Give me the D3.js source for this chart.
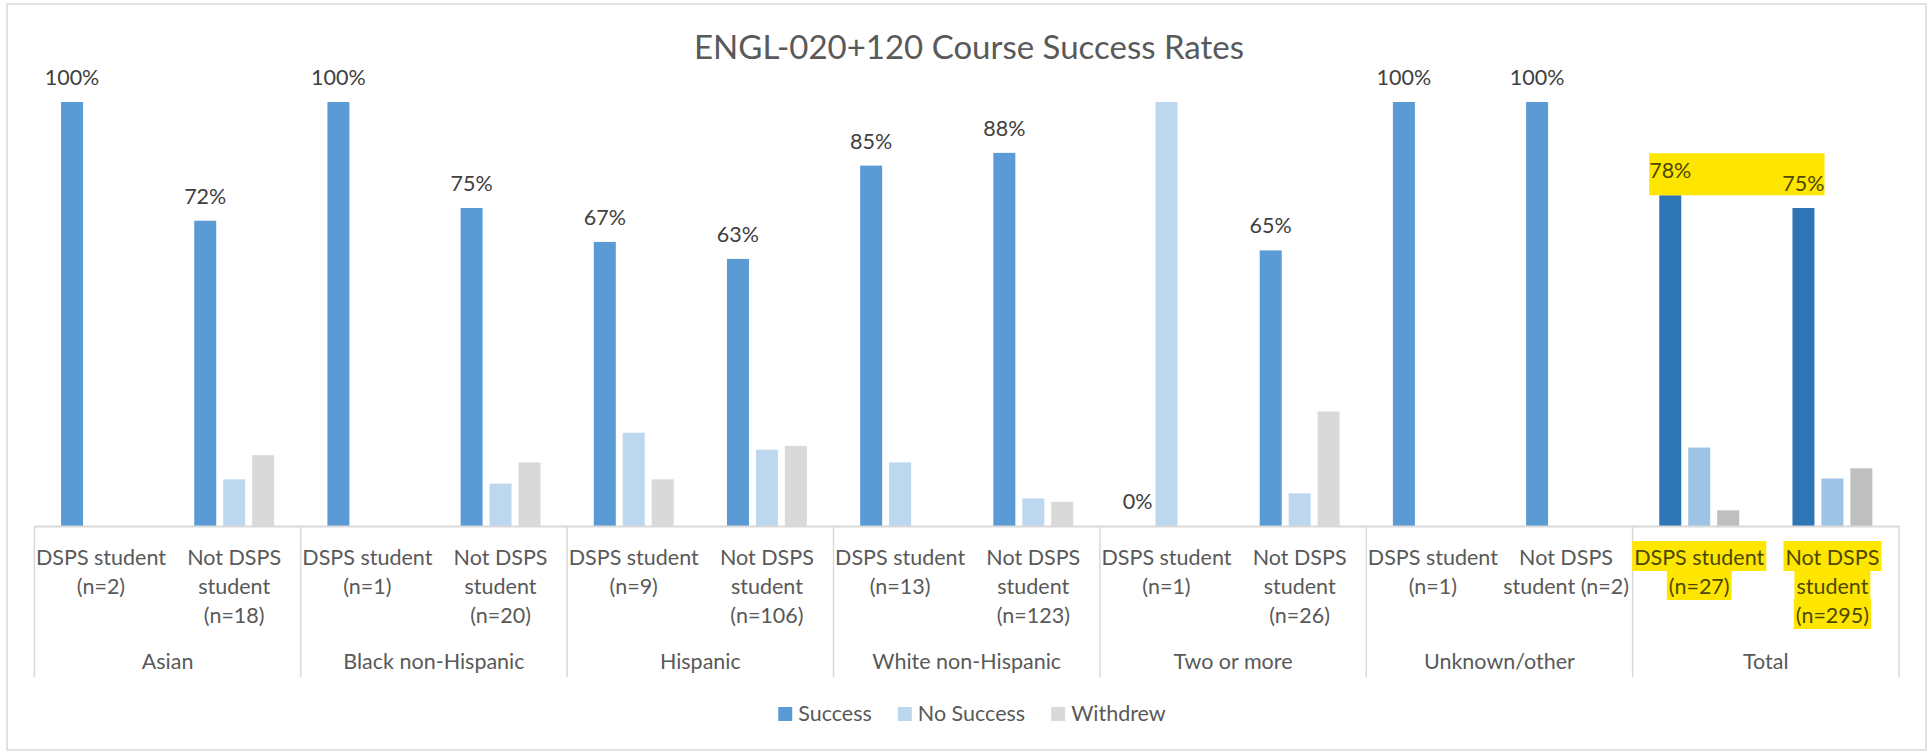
<!DOCTYPE html>
<html>
<head>
<meta charset="utf-8">
<script src="https://cdn.jsdelivr.net/npm/d3@7"></script>
<style>
body { margin: 0; background: #fff; }
svg { display: block; }
text { font-family: Lato, "Open Sans", sans-serif; }
</style>
</head>
<body>
<script>
// sizes
var width = 1929, height = 752;
var left = 34.4, right = 1899, baseY = 526, topY = 102;

// data
var groups = ["Asian", "Black non-Hispanic", "Hispanic", "White non-Hispanic", "Two or more", "Unknown/other", "Total"];
var subLabels = [
    ["DSPS student", "(n=2)"], ["Not DSPS", "student", "(n=18)"],
    ["DSPS student", "(n=1)"], ["Not DSPS", "student", "(n=20)"],
    ["DSPS student", "(n=9)"], ["Not DSPS", "student", "(n=106)"],
    ["DSPS student", "(n=13)"], ["Not DSPS", "student", "(n=123)"],
    ["DSPS student", "(n=1)"], ["Not DSPS", "student", "(n=26)"],
    ["DSPS student", "(n=1)"], ["Not DSPS", "student (n=2)"],
    ["DSPS student", "(n=27)"], ["Not DSPS", "student", "(n=295)"]
];
var series = ["Success", "No Success", "Withdrew"];
var success   = [1.00, 0.72, 1.00, 0.75, 0.67, 0.63, 0.85, 0.88, 0.00, 0.65, 1.00, 1.00, 0.78, 0.75];
var noSuccess = [0.00, 0.11, 0.00, 0.10, 0.22, 0.18, 0.15, 0.065, 1.00, 0.077, 0.00, 0.00, 0.185, 0.112];
var withdrew  = [0.00, 0.167, 0.00, 0.15, 0.11, 0.189, 0.00, 0.057, 0.00, 0.27, 0.00, 0.00, 0.037, 0.136];

var colors = ["#5b9bd5", "#bdd7ee", "#d9d9d9"];
var totalColors = ["#2e75b6", "#9dc3e6", "#bfbfbf"];
var yellow = "#ffe600", onYellow = "#4d4800";

var rows = subLabels.map(function (lab, i) {
    return { i: i, group: groups[Math.floor(i / 2)], lines: lab, values: [success[i], noSuccess[i], withdrew[i]] };
});

var svg = d3.select("body").append("svg")
    .attr("width", width)
    .attr("height", height);

// chart border
svg.append("rect")
    .attr("x", 7).attr("y", 4)
    .attr("width", 1919).attr("height", 746)
    .attr("fill", "#fff")
    .attr("stroke", "#d9d9d9").attr("stroke-width", 1.5);

// scales
var xGroup = d3.scaleBand().domain(groups).range([left, right]);
var xSub = d3.scaleBand().domain(d3.range(rows.length)).range([left, right]);
var xSeries = d3.scaleBand().domain(series).range([0, xSub.bandwidth()]).paddingInner(0.24).paddingOuter(0.92);
var y = d3.scaleLinear().domain([0, 1]).range([baseY, topY]);

// title
svg.append("text")
    .attr("x", 969).attr("y", 59)
    .attr("text-anchor", "middle")
    .attr("font-size", 33)
    .attr("fill", "#595959")
    .text("ENGL-020+120 Course Success Rates");

// bars
var bars = svg.append("g");
rows.forEach(function (r) {
    bars.selectAll(null)
        .data(r.values)
        .enter().append("rect")
        .attr("x", function (d, j) { return xSub(r.i) + xSeries(series[j]); })
        .attr("y", function (d) { return y(d); })
        .attr("width", xSeries.bandwidth())
        .attr("height", function (d) { return baseY - y(d); })
        .attr("fill", function (d, j) { return r.group == "Total" ? totalColors[j] : colors[j]; });
});

// axis line + group separators
svg.append("line")
    .attr("x1", left).attr("x2", right)
    .attr("y1", baseY + 0.5).attr("y2", baseY + 0.5)
    .attr("stroke", "#d9d9d9").attr("stroke-width", 2);

svg.append("g").selectAll("line")
    .data(groups.map(function (g) { return xGroup(g); }).concat([right]))
    .enter().append("line")
    .attr("x1", function (d) { return d; }).attr("x2", function (d) { return d; })
    .attr("y1", baseY).attr("y2", 677)
    .attr("stroke", "#d9d9d9").attr("stroke-width", 1.5);

// category labels
var hlLayer = svg.append("g");
var catText = svg.append("g").attr("font-size", 21.5).attr("text-anchor", "middle");
rows.forEach(function (r) {
    r.lines.forEach(function (line, k) {
        var t = catText.append("text")
            .attr("x", xSub(r.i) + xSub.bandwidth() / 2)
            .attr("y", 565 + k * 29)
            .attr("fill", r.group == "Total" ? onYellow : "#595959")
            .text(line);
        if (r.group == "Total") {
            var w = t.node().getComputedTextLength();
            hlLayer.append("rect")
                .attr("x", xSub(r.i) + xSub.bandwidth() / 2 - w / 2 - 2)
                .attr("y", 565 + k * 29 - 24)
                .attr("width", w + 4)
                .attr("height", 30)
                .attr("fill", yellow);
        }
    });
});

catText.selectAll(".grp")
    .data(groups)
    .enter().append("text")
    .attr("class", "grp")
    .attr("x", function (d) { return xGroup(d) + xGroup.bandwidth() / 2; })
    .attr("y", 669)
    .attr("fill", "#595959")
    .text(function (d) { return d; });

// data labels (Success only)
var fmt = d3.format(".0%");
var lblHl = svg.append("g");
var lbl = svg.append("g").attr("font-size", 21.5).attr("text-anchor", "middle");
var totalBoxes = [];
rows.forEach(function (r) {
    var cx = xSub(r.i) + xSeries("Success") + xSeries.bandwidth() / 2;
    var t = lbl.append("text")
        .attr("x", cx)
        .attr("y", y(r.values[0]) - 17)
        .attr("fill", r.group == "Total" ? onYellow : "#404040")
        .text(fmt(r.values[0]));
    if (r.group == "Total") {
        var w = t.node().getComputedTextLength();
        totalBoxes.push({ x0: cx - w / 2, x1: cx + w / 2, top: y(r.values[0]) - 17 - 25, bottom: y(r.values[0]) });
    }
});
if (totalBoxes.length) {
    lblHl.append("rect")
        .attr("x", totalBoxes[0].x0)
        .attr("y", totalBoxes[0].top)
        .attr("width", totalBoxes[totalBoxes.length - 1].x1 - totalBoxes[0].x0)
        .attr("height", totalBoxes[0].bottom - totalBoxes[0].top)
        .attr("fill", yellow);
}

// legend
var legend = svg.append("g").attr("font-size", 21.5);
var lx = 0;
series.forEach(function (s, j) {
    var item = legend.append("g").attr("transform", "translate(" + lx + ",0)");
    item.append("rect").attr("x", 0).attr("y", 707).attr("width", 14).attr("height", 14).attr("fill", colors[j]);
    var t = item.append("text").attr("x", 20).attr("y", 721).attr("fill", "#595959").text(s);
    lx += 20 + t.node().getComputedTextLength() + 26;
});
lx -= 26;
legend.attr("transform", "translate(" + (972 - lx / 2) + ",0)");
</script>
</body>
</html>
